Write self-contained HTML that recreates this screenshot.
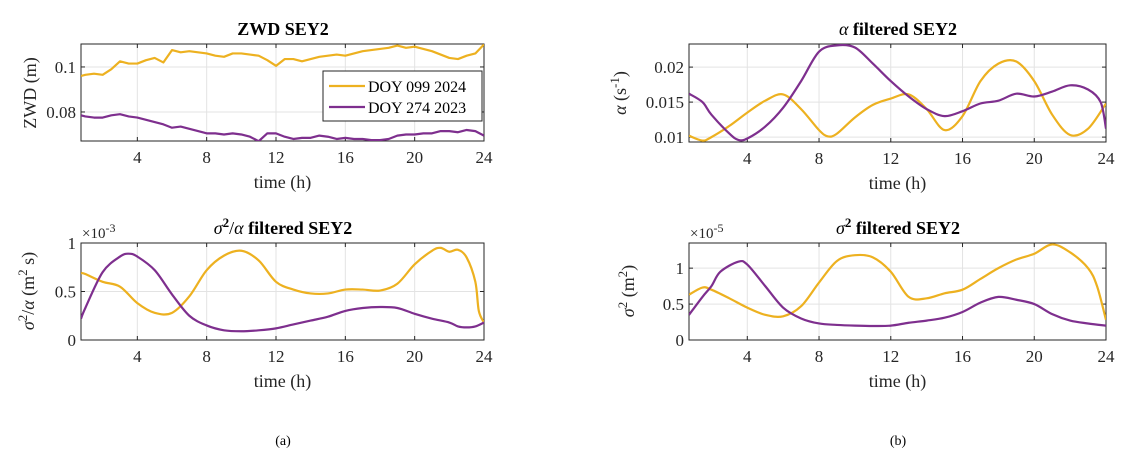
<!DOCTYPE html>
<html><head><meta charset="utf-8"><style>
body{margin:0;background:#fff;}
svg{display:block;font-family:"Liberation Serif",serif;}
</style></head><body>
<svg id="fig" width="1134" height="470" xmlns="http://www.w3.org/2000/svg"></svg>
<script>
// ---- data ----
const zwdT_y = [0.75,1,1.5,2,2.5,3,3.5,4,4.5,5,5.5,6,6.5,7,7.5,8,8.5,9,9.5,10,10.5,11,11.5,12,12.5,13,13.5,14,14.5,15,15.5,16,16.5,17,17.5,18,18.5,19,19.5,20,20.5,21,21.5,22,22.5,23,23.5,24];
const zwdYellow = [0.096,0.0965,0.097,0.0965,0.099,0.1025,0.1015,0.1015,0.103,0.104,0.102,0.1075,0.1065,0.107,0.1065,0.106,0.105,0.1045,0.106,0.106,0.1055,0.105,0.103,0.1005,0.1035,0.1035,0.1025,0.1035,0.1045,0.105,0.1055,0.105,0.106,0.107,0.1075,0.108,0.1085,0.1095,0.1085,0.109,0.108,0.107,0.1055,0.104,0.1035,0.105,0.106,0.110];
const zwdPurple = [0.0785,0.078,0.0775,0.0775,0.0785,0.079,0.078,0.0775,0.0765,0.0755,0.0745,0.073,0.0735,0.0725,0.0715,0.0705,0.0705,0.070,0.0705,0.070,0.069,0.067,0.0705,0.0705,0.069,0.068,0.0685,0.0685,0.0695,0.069,0.068,0.0685,0.068,0.068,0.0675,0.0675,0.0680,0.0695,0.070,0.070,0.0705,0.0705,0.0715,0.0715,0.071,0.072,0.0715,0.0695];

const aT_y = [0.75,1.5,2,3,4,5,6,7,8,8.5,9,10,11,12,13,14,15,16,17,18,19,20,21,22,23,24];
const alphaYellow = [0.0102,0.0095,0.0100,0.0116,0.0135,0.0152,0.0161,0.0140,0.0110,0.0101,0.0105,0.0128,0.0146,0.0155,0.0161,0.0140,0.0110,0.0130,0.0180,0.0205,0.0208,0.0180,0.0132,0.0103,0.0112,0.0148];
const aT_p = [0.75,1.5,2,3,3.5,4,5,6,7,8,9,10,11,12,13,14,15,16,17,18,19,20,21,22,23,23.7,24];
const alphaPurple = [0.0162,0.0150,0.0132,0.0105,0.0096,0.0098,0.0115,0.0142,0.0180,0.0222,0.0231,0.0228,0.0205,0.0180,0.0158,0.0140,0.0130,0.0137,0.0148,0.0152,0.0162,0.0158,0.0165,0.0174,0.0168,0.0150,0.0112];

const rT_y = [0.75,1,2,3,4,5,6,7,8,9,10,11,12,13,14,15,16,17,18,19,20,21,21.5,22,22.5,23,23.5,23.7,24];
const ratioYellow = [0.69,0.68,0.60,0.55,0.38,0.28,0.28,0.45,0.72,0.87,0.92,0.82,0.60,0.52,0.48,0.48,0.52,0.52,0.51,0.58,0.78,0.92,0.95,0.91,0.93,0.85,0.60,0.30,0.18];
const rT_p = [0.75,1,2,3,3.5,4,5,6,7,8,9,10,11,12,13,14,15,16,17,18,19,20,21,22,22.5,23,23.5,24];
const ratioPurple = [0.22,0.33,0.70,0.86,0.89,0.86,0.72,0.47,0.25,0.15,0.10,0.09,0.10,0.12,0.16,0.20,0.24,0.30,0.33,0.34,0.33,0.27,0.22,0.18,0.14,0.13,0.14,0.18];

const sT_y = [0.75,1.5,2,3,4,5,6,7,8,9,10,11,12,13,14,15,16,17,18,19,20,21,22,23,23.5,24];
const sigYellow = [0.63,0.73,0.70,0.58,0.45,0.35,0.33,0.47,0.80,1.10,1.18,1.15,0.95,0.60,0.58,0.65,0.70,0.85,1.00,1.12,1.20,1.33,1.22,1.00,0.75,0.28];
const sT_p = [0.75,1.5,2,2.5,3.5,4,5,6,7,8,9,10,11,12,13,14,15,16,17,18,19,20,21,22,23,24];
const sigPurple = [0.35,0.60,0.75,0.95,1.09,1.05,0.75,0.45,0.30,0.23,0.21,0.20,0.195,0.20,0.24,0.27,0.31,0.39,0.52,0.60,0.56,0.50,0.36,0.27,0.23,0.20];

const xTicks = [4,8,12,16,20,24];
const zwdTicks = [0.08,0.1], zwdTickLabels = ["0.08","0.1"];
const alphaTicks = [0.01,0.015,0.02], alphaTickLabels = ["0.01","0.015","0.02"];
const ratioTicks = [0,0.5,1], ratioTickLabels = ["0","0.5","1"];
const sigTicks = [0,0.5,1], sigTickLabels = ["0","0.5","1"];

const YEL="#EDB120", PUR="#7E2F8E";
const NS="http://www.w3.org/2000/svg";
const svg=document.getElementById('fig');
function el(tag,attrs,parent){const e=document.createElementNS(NS,tag);for(const k in attrs)e.setAttribute(k,attrs[k]);(parent||svg).appendChild(e);return e;}

function smoothPath(pts){
  let d=`M${pts[0][0]},${pts[0][1]}`;
  for(let i=0;i<pts.length-1;i++){
    const p0=pts[Math.max(0,i-1)],p1=pts[i],p2=pts[i+1],p3=pts[Math.min(pts.length-1,i+2)];
    const c1x=p1[0]+(p2[0]-p0[0])/6,c1y=p1[1]+(p2[1]-p0[1])/6;
    const c2x=p2[0]-(p3[0]-p1[0])/6,c2y=p2[1]-(p3[1]-p1[1])/6;
    d+=` C${c1x},${c1y} ${c2x},${c2y} ${p2[0]},${p2[1]}`;
  }
  return d;
}

function makeAxes(o){
  const g=el('g',{});
  
  
  const sx=t=>o.x0+(t-0.75)/(24-0.75)*(o.x1-o.x0);
  const sy=v=>o.y1-(v-o.vmin)/(o.vmax-o.vmin)*(o.y1-o.y0);
  xTicks.forEach(t=>{el('line',{x1:sx(t),x2:sx(t),y1:o.y0,y2:o.y1,stroke:'#e3e3e3','stroke-width':1},g);});
  o.yt.forEach(v=>{el('line',{x1:o.x0,x2:o.x1,y1:sy(v),y2:sy(v),stroke:'#e3e3e3','stroke-width':1},g);});
  el('rect',{x:o.x0,y:o.y0,width:o.x1-o.x0,height:o.y1-o.y0,fill:'none',stroke:'#262626','stroke-width':1},g);
  xTicks.forEach(t=>{
    el('line',{x1:sx(t),x2:sx(t),y1:o.y1,y2:o.y1-4,stroke:'#262626'},g);
    el('line',{x1:sx(t),x2:sx(t),y1:o.y0,y2:o.y0+4,stroke:'#262626'},g);
    const tx=el('text',{x:sx(t),y:o.y1+22,'text-anchor':'middle','font-size':17,fill:'#262626'},g);
    
    
    tx.textContent=t;
  });
  o.yt.forEach((v,i)=>{
    el('line',{x1:o.x0,x2:o.x0+4,y1:sy(v),y2:sy(v),stroke:'#262626'},g);
    el('line',{x1:o.x1,x2:o.x1-4,y1:sy(v),y2:sy(v),stroke:'#262626'},g);
    const tx=el('text',{x:o.x0-5,y:sy(v)+6,'text-anchor':'end','font-size':17,fill:'#262626'},g);
    
    
    tx.textContent=o.ytl[i];
  });
  const cp=el('clipPath',{id:o.name+'-clip'},g);
  el('rect',{x:o.x0,y:o.y0,width:o.x1-o.x0,height:o.y1-o.y0},cp);
  o.series.forEach(s=>{
    const pts=s.t.map((t,i)=>[sx(t),sy(s.v[i])]);
    const d=o.smooth?smoothPath(pts):'M'+pts.map(p=>p[0]+','+p[1]).join(' L');
    const p=el('path',{d,fill:'none',stroke:s.c,'stroke-width':2.2,'clip-path':`url(#${o.name}-clip)`,'stroke-linejoin':'round'},g);
    
    
  });
  const xl=el('text',{x:(o.x0+o.x1)/2,y:o.y1+47,'text-anchor':'middle','font-size':18,fill:'#262626'},g);
  
  
  xl.textContent='time (h)';
  return {g,sx,sy};
}

makeAxes({name:'zwd-plot',x0:81,x1:484,y0:44,y1:141,vmin:0.0671,vmax:0.1102,yt:zwdTicks,ytl:zwdTickLabels,smooth:false,
  series:[{t:zwdT_y,v:zwdYellow,c:YEL,n:'zwd-doy099-line'},{t:zwdT_y,v:zwdPurple,c:PUR,n:'zwd-doy274-line'}]});
makeAxes({name:'alpha-plot',x0:689,x1:1106,y0:44,y1:142,vmin:0.0093,vmax:0.0233,yt:alphaTicks,ytl:alphaTickLabels,smooth:true,
  series:[{t:aT_y,v:alphaYellow,c:YEL,n:'alpha-doy099-line'},{t:aT_p,v:alphaPurple,c:PUR,n:'alpha-doy274-line'}]});
makeAxes({name:'ratio-plot',x0:81,x1:484,y0:243,y1:340,vmin:0,vmax:1,yt:ratioTicks,ytl:ratioTickLabels,smooth:true,
  series:[{t:rT_y,v:ratioYellow,c:YEL,n:'ratio-doy099-line'},{t:rT_p,v:ratioPurple,c:PUR,n:'ratio-doy274-line'}]});
makeAxes({name:'sigma-plot',x0:689,x1:1106,y0:243,y1:340,vmin:0,vmax:1.35,yt:sigTicks,ytl:sigTickLabels,smooth:true,
  series:[{t:sT_y,v:sigYellow,c:YEL,n:'sigma-doy099-line'},{t:sT_p,v:sigPurple,c:PUR,n:'sigma-doy274-line'}]});
</script>
<svg width="1134" height="470" style="position:absolute;left:0;top:0;font-family:'Liberation Serif',serif;" xmlns="http://www.w3.org/2000/svg">
  <g>
    <rect x="323" y="71" width="159" height="50" fill="#fff" stroke="#262626" stroke-width="1"/>
    <line x1="329" y1="86" x2="365" y2="86" stroke="#EDB120" stroke-width="2.2"/>
    <text x="368" y="92" font-size="16" fill="#000">DOY 099 2024</text>
    <line x1="329" y1="107" x2="365" y2="107" stroke="#7E2F8E" stroke-width="2.2"/>
    <text x="368" y="113" font-size="16" fill="#000">DOY 274 2023</text>
  </g>
  <text x="283" y="35" text-anchor="middle" font-size="18" font-weight="bold">ZWD SEY2</text>
  <text x="898" y="35" text-anchor="middle" font-size="18" font-weight="bold"><tspan font-style="italic" font-weight="normal">α</tspan> filtered SEY2</text>
  <text x="283" y="234" text-anchor="middle" font-size="18" font-weight="bold"><tspan font-style="italic" font-weight="normal">σ</tspan><tspan dy="-7" font-size="13">2</tspan><tspan dy="7" font-weight="normal">/</tspan><tspan font-style="italic" font-weight="normal">α</tspan> filtered SEY2</text>
  <text x="898" y="234" text-anchor="middle" font-size="18" font-weight="bold"><tspan font-style="italic" font-weight="normal">σ</tspan><tspan dy="-7" font-size="13">2</tspan><tspan dy="7"> filtered SEY2</tspan></text>
  <text x="82" y="238" font-size="15" fill="#262626">×10<tspan dy="-6" font-size="12">-3</tspan></text>
  <text x="690" y="238" font-size="15" fill="#262626">×10<tspan dy="-6" font-size="12">-5</tspan></text>
  <text transform="translate(36,93) rotate(-90)" text-anchor="middle" font-size="18" fill="#262626">ZWD (m)</text>
  <text transform="translate(626,93) rotate(-90)" text-anchor="middle" font-size="18" fill="#262626"><tspan font-style="italic">α</tspan> (s<tspan dy="-7" font-size="13">-1</tspan><tspan dy="7">)</tspan></text>
  <text transform="translate(34,291) rotate(-90)" text-anchor="middle" font-size="18" fill="#262626"><tspan font-style="italic">σ</tspan><tspan dy="-7" font-size="13">2</tspan><tspan dy="7">/</tspan><tspan font-style="italic">α</tspan> (m<tspan dy="-7" font-size="13">2</tspan><tspan dy="7"> s)</tspan></text>
  <text transform="translate(634,291) rotate(-90)" text-anchor="middle" font-size="18" fill="#262626"><tspan font-style="italic">σ</tspan><tspan dy="-7" font-size="13">2</tspan><tspan dy="7"> (m</tspan><tspan dy="-7" font-size="13">2</tspan><tspan dy="7">)</tspan></text>
  <text x="283" y="445" text-anchor="middle" font-size="14">(a)</text>
  <text x="898" y="445" text-anchor="middle" font-size="14">(b)</text>
</svg>
</body></html>
